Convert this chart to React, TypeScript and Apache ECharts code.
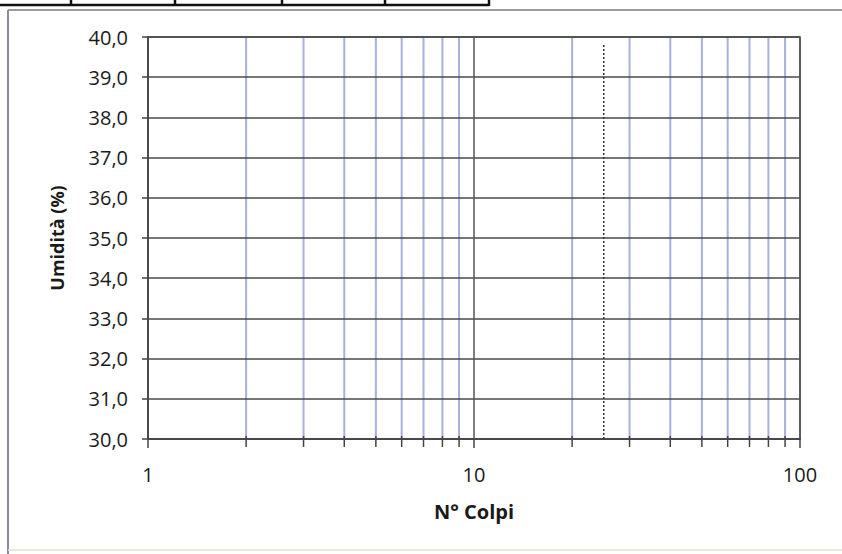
import React, { useEffect, useRef } from "react";
import * as echarts from "echarts";

// Data
const xMajorTicks = [1, 10, 100];
const xMinorValues = [2, 3, 4, 5, 6, 7, 8, 9, 20, 30, 40, 50, 60, 70, 80, 90];
const yMin = 30;
const yMax = 40;
const yInterval = 1;
const limitBlows = 25;
const limitLineYValues = [30, 39.8];
const xAxisTitle = "N° Colpi";
const yAxisTitle = "Umidità (%)";
const topBoxDividers = [71, 175, 282, 385];

const FONT = "'Open Sans', 'Liberation Sans', sans-serif";

export default function App() {
  const ref = useRef<HTMLDivElement>(null);
  useEffect(() => {
    if (!ref.current) return;
    const chart = echarts.init(ref.current, null, { renderer: "svg" });
    const minorData = xMinorValues.map((v) => [v, yMin]);
    const option: any = {
      animation: false,
      backgroundColor: "#ffffff",
      grid: {
        left: 148,
        right: 42,
        top: 37,
        bottom: 115,
        show: true,
        borderColor: "#4a4a4a",
        borderWidth: 1.5,
        backgroundColor: "transparent",
      },
      xAxis: {
        type: "log",
        logBase: 10,
        min: xMajorTicks[0],
        max: xMajorTicks[xMajorTicks.length - 1],
        axisLine: { lineStyle: { color: "#444", width: 1.5 } },
        axisTick: { length: 9, lineStyle: { color: "#444", width: 1.5 } },
        axisLabel: {
          margin: 25,
          fontSize: 20,
          color: "#1a1a1a",
          fontFamily: FONT,
          showMinLabel: true,
          showMaxLabel: true,
        },
        splitLine: { show: true, lineStyle: { color: "#555", width: 1.5 } },
        name: xAxisTitle,
        nameLocation: "middle",
        nameGap: 62,
        nameTextStyle: { fontWeight: "bold", fontSize: 20, color: "#1a1a1a", fontFamily: FONT },
      },
      yAxis: {
        type: "value",
        min: yMin,
        max: yMax,
        interval: yInterval,
        axisLine: { show: true, lineStyle: { color: "#444", width: 1.5 } },
        axisTick: { show: true, length: 6, lineStyle: { color: "#444", width: 1.5 } },
        axisLabel: {
          margin: 20,
          fontSize: 20,
          color: "#1a1a1a",
          fontFamily: FONT,
          formatter: (v: number) => v.toFixed(1).replace(".", ","),
        },
        splitLine: { show: true, lineStyle: { color: "#4a4a4a", width: 1.5 } },
        name: yAxisTitle,
        nameLocation: "middle",
        nameGap: 82,
        nameTextStyle: { fontWeight: "bold", fontSize: 18, color: "#1a1a1a", fontFamily: FONT },
      },
      series: [
        {
          type: "custom",
          z: -1,
          clip: false,
          data: minorData,
          encode: { x: 0, y: 1 },
          renderItem: (_params: any, api: any) => {
            const v = api.value(0);
            const top = api.coord([v, yMax]);
            const bot = api.coord([v, yMin]);
            return {
              type: "line",
              shape: { x1: top[0], y1: top[1], x2: bot[0], y2: bot[1] },
              style: { stroke: "#a8b0dc", lineWidth: 2 },
            };
          },
        },
        {
          type: "custom",
          clip: false,
          data: minorData,
          encode: { x: 0, y: 1 },
          renderItem: (_params: any, api: any) => {
            const v = api.value(0);
            const bot = api.coord([v, yMin]);
            return {
              type: "line",
              shape: { x1: bot[0], y1: bot[1] - 3, x2: bot[0], y2: bot[1] + 8 },
              style: { stroke: "#444", lineWidth: 1.5 },
            };
          },
        },
        {
          type: "line",
          data: limitLineYValues.map((y) => [limitBlows, y]),
          symbol: "none",
          lineStyle: { color: "#333", width: 1.5, type: [2, 2] },
        },
      ],
      graphic: [
        // outer frame of the scanned sheet
        { type: "line", shape: { x1: 8, y1: 10, x2: 842, y2: 10 }, style: { stroke: "#7a7a7a", lineWidth: 1.5 } },
        { type: "line", shape: { x1: 8, y1: 10, x2: 8, y2: 554 }, style: { stroke: "#8a8a98", lineWidth: 2 } },
        { type: "line", shape: { x1: 8, y1: 550, x2: 842, y2: 550 }, style: { stroke: "#e6e2cc", lineWidth: 1.5 } },
        // header box at the top
        { type: "line", shape: { x1: 0, y1: 5, x2: 489, y2: 5 }, style: { stroke: "#111", lineWidth: 2.5 } },
        { type: "line", shape: { x1: 489, y1: 0, x2: 489, y2: 6 }, style: { stroke: "#111", lineWidth: 2.5 } },
        ...topBoxDividers.map((x) => ({
          type: "line",
          shape: { x1: x, y1: 0, x2: x, y2: 6 },
          style: { stroke: "#111", lineWidth: 2.5 },
        })),
      ],
    };
    chart.setOption(option);
    return () => chart.dispose();
  }, []);
  return (
    <div
      ref={ref}
      style={{ position: "fixed", left: 0, top: 0, width: 842, height: 554 }}
    />
  );
}
